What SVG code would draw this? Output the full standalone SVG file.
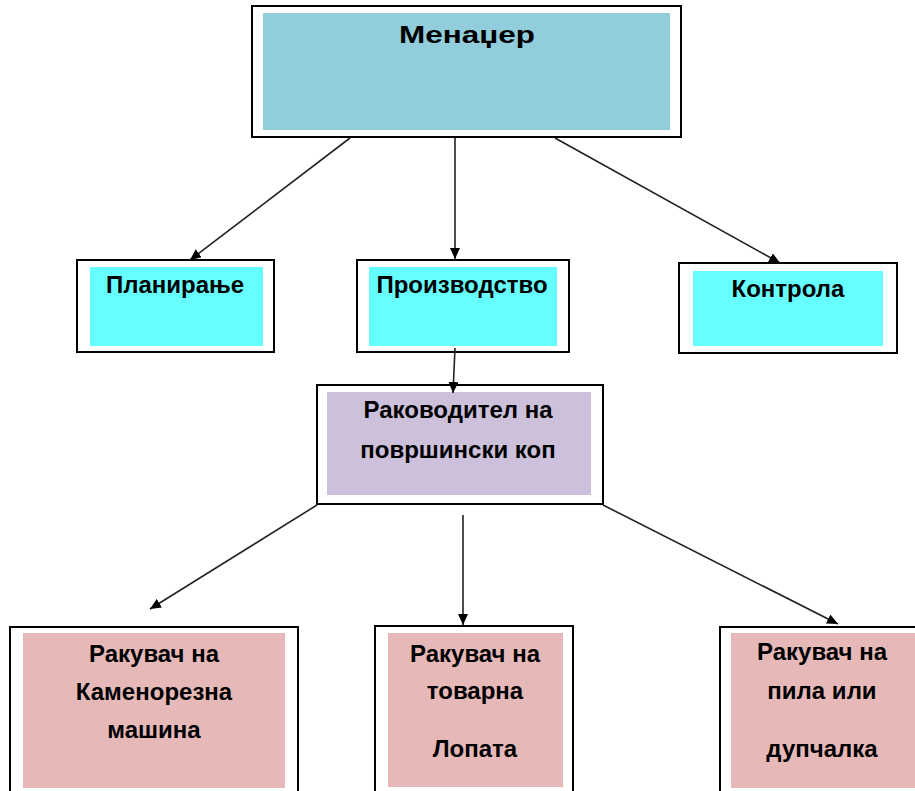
<svg xmlns="http://www.w3.org/2000/svg" width="915" height="791" viewBox="0 0 915 791">
<defs>
<marker id="ah" markerWidth="11" markerHeight="10" refX="11" refY="5" orient="auto" markerUnits="userSpaceOnUse">
<path d="M0,0 L11,5 L0,10 z" fill="#000"/>
</marker>
<style>
.outer{fill:#fff;stroke:#000;stroke-width:2}
.blue{fill:#92CDDC}
.cyan{fill:#66FFFF}
.purple{fill:#CCC0DA}
.pink{fill:#E6B9B8}
.t{font-family:"Liberation Sans","Open Sans",sans-serif;font-weight:bold;font-size:24px;fill:#000;text-anchor:middle}
.c{stroke:#222;stroke-width:1.6;fill:none;marker-end:url(#ah)}
</style>
</defs>
<rect width="915" height="791" fill="#fff"/>
<g id="n-menadzer">
<rect class="outer" x="252" y="6" width="429" height="131"/>
<rect class="blue" x="263" y="13" width="407" height="117"/>
<text class="t" x="467" y="43" font-size="28" textLength="136" lengthAdjust="spacingAndGlyphs">Менаџер</text>
</g>
<g id="n-planiranje">
<rect class="outer" x="77" y="260" width="197" height="92"/>
<rect class="cyan" x="90" y="267" width="173" height="79"/>
<text class="t" x="175" y="293">Планирање</text>
</g>
<g id="n-proizvodstvo">
<rect class="outer" x="357" y="260" width="212" height="92"/>
<rect class="cyan" x="369" y="267" width="188" height="79"/>
<text class="t" x="462" y="293">Производство</text>
</g>
<g id="n-kontrola">
<rect class="outer" x="679" y="263" width="218" height="90"/>
<rect class="cyan" x="693" y="271" width="190" height="75"/>
<text class="t" x="788" y="297">Контрола</text>
</g>
<g id="n-rakovoditel">
<rect class="outer" x="317" y="385" width="286" height="119"/>
<rect class="purple" x="327" y="392" width="264" height="103"/>
<text class="t" x="458" y="418">Раководител на</text>
<text class="t" x="458" y="458">површински коп</text>
</g>
<g id="n-kamenorezna">
<rect class="outer" x="10" y="627" width="288" height="180"/>
<rect class="pink" x="23" y="633" width="262" height="155"/>
<text class="t" x="154" y="662">Ракувач на</text>
<text class="t" x="154" y="700">Каменорезна</text>
<text class="t" x="154" y="738">машина</text>
</g>
<g id="n-lopata">
<rect class="outer" x="375" y="626" width="198" height="180"/>
<rect class="pink" x="388" y="633" width="175" height="154"/>
<text class="t" x="475" y="662">Ракувач на</text>
<text class="t" x="475" y="699">товарна</text>
<text class="t" x="475" y="757">Лопата</text>
</g>
<g id="n-pila">
<rect class="outer" x="720" y="627" width="220" height="180"/>
<rect class="pink" x="731" y="633" width="200" height="155"/>
<text class="t" x="822" y="660">Ракувач на</text>
<text class="t" x="822" y="699">пила или</text>
<text class="t" x="822" y="757">дупчалка</text>
</g>
<g id="connectors">
<line class="c" x1="350" y1="138" x2="190" y2="260"/>
<line class="c" x1="455" y1="138" x2="455" y2="259"/>
<line class="c" x1="555" y1="138" x2="780" y2="263"/>
<line class="c" x1="455" y1="348" x2="453" y2="393"/>
<line class="c" x1="317" y1="505" x2="150" y2="609"/>
<line class="c" x1="463" y1="515" x2="463" y2="625"/>
<line class="c" x1="603" y1="505" x2="838" y2="624"/>
</g>
</svg>
